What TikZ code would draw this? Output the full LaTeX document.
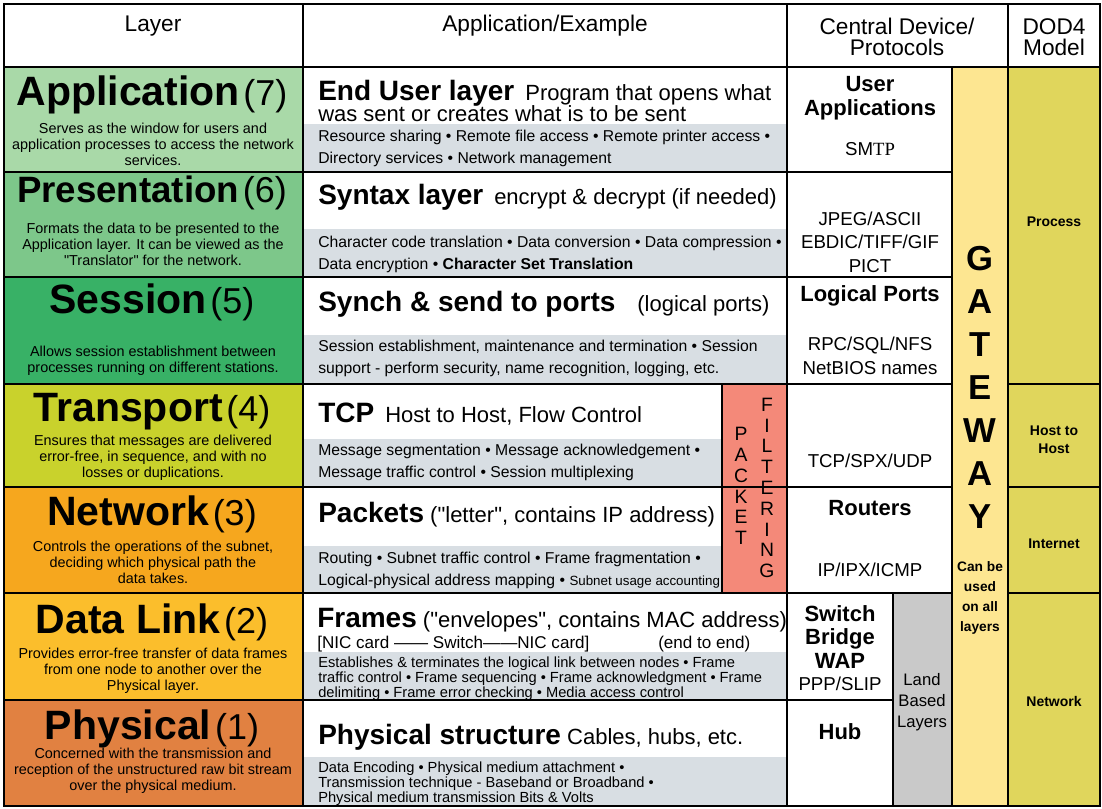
\documentclass[tikz,border=0pt]{standalone}
\usepackage{fontspec}
\setmainfont{Liberation Sans}
\newfontfamily\seriftp{Liberation Serif}
\definecolor{appgreen}{RGB}{169,217,168}
\definecolor{presgreen}{RGB}{125,199,138}
\definecolor{sessgreen}{RGB}{56,177,102}
\definecolor{transyel}{RGB}{201,210,44}
\definecolor{netorange}{RGB}{246,167,30}
\definecolor{linkorange}{RGB}{251,190,44}
\definecolor{physorange}{RGB}{225,129,65}
\definecolor{bandgrey}{RGB}{216,222,227}
\definecolor{gateyel}{RGB}{253,230,145}
\definecolor{dodyel}{RGB}{224,214,92}
\definecolor{pfred}{RGB}{244,137,121}
\definecolor{landgrey}{RGB}{201,201,201}
\newcommand{\lyrname}[3][30.75]{{\fontsize{#1}{#1}\selectfont\textbf{#2}} {\fontsize{27}{27}\selectfont(#3)}}
\newcommand{\exbold}[1]{{\fontsize{21}{21}\selectfont\bfseries #1}}

\begin{document}
\begin{tikzpicture}[x=0.75pt,y=0.75pt,yscale=-1,xscale=1,
	grid/.style={line width=1.2pt},
	frame/.style={line width=1.6pt},
	hdr/.style={inner sep=0.75pt,align=center,font=\fontsize{17}{16}\selectfont},
	lyrtitle/.style={inner sep=0.75pt},
	lyrdesc/.style={inner sep=0.75pt,align=center,font=\fontsize{10.8}{12}\selectfont},
	exline/.style={anchor=west,inner sep=0.75pt,font=\fontsize{16.5}{16}\selectfont},
	exnote/.style={anchor=west,inner sep=0.75pt,font=\fontsize{12.8}{14}\selectfont},
	exsmall/.style={anchor=west,inner sep=0.75pt,align=left,font=\fontsize{11.8}{16.5}\selectfont},
	exsmaller/.style={anchor=west,inner sep=0.75pt,align=left,font=\fontsize{11}{11.3}\selectfont},
	devbold/.style={inner sep=0.75pt,align=center,font=\fontsize{16.5}{17.6}\selectfont\bfseries},
	devtxt/.style={inner sep=0.75pt,align=center,font=\fontsize{14}{17.6}\selectfont},
	landtxt/.style={inner sep=0.75pt,align=center,font=\fontsize{12.5}{15.75}\selectfont},
	gatebig/.style={inner sep=0.75pt,align=center,font=\fontsize{26}{32.25}\selectfont\bfseries},
	gatesmall/.style={inner sep=0.75pt,align=center,font=\fontsize{10.3}{15}\selectfont\bfseries},
	pftxt/.style={inner sep=0.75pt,align=center,font=\fontsize{14.5}{15.6}\selectfont},
	dodtxt/.style={inner sep=0.75pt,align=center,font=\fontsize{10.5}{13.5}\selectfont\bfseries}]
	\useasboundingbox (0,0) rectangle (1102,809);
	
	%Shape: Rectangle (layer colours)
	\fill [appgreen] (4,67) rectangle (303,172);
	\fill [presgreen] (4,172) rectangle (303,277);
	\fill [sessgreen] (4,277) rectangle (303,384);
	\fill [transyel] (4,384) rectangle (303,487);
	\fill [netorange] (4,487) rectangle (303,593);
	\fill [linkorange] (4,593) rectangle (303,700);
	\fill [physorange] (4,700) rectangle (303,806);
	%Shape: Rectangle (grey bands)
	\fill [bandgrey] (303,124) rectangle (787,172);
	\fill [bandgrey] (303,229) rectangle (787,277);
	\fill [bandgrey] (303,335) rectangle (787,384);
	\fill [bandgrey] (303,439) rectangle (722,487);
	\fill [bandgrey] (303,546) rectangle (722,593);
	\fill [bandgrey] (303,652) rectangle (787,700);
	\fill [bandgrey] (303,757) rectangle (787,806);
	%Shape: Rectangle (side columns)
	\fill [pfred] (722,384) rectangle (787,593);
	\fill [landgrey] (893,593) rectangle (952,806);
	\fill [gateyel] (952,67) rectangle (1008,806);
	\fill [dodyel] (1008,67) rectangle (1100,806);
	
	%Straight Lines
	\draw [grid] (4,67) -- (1100,67);
	\draw [grid] (4,172) -- (952,172);
	\draw [grid] (4,277) -- (952,277);
	\draw [grid] (4,384) -- (952,384) (1008,384) -- (1100,384);
	\draw [grid] (4,487) -- (952,487) (1008,487) -- (1100,487);
	\draw [grid] (4,593) -- (952,593) (1008,593) -- (1100,593);
	\draw [grid] (4,700) -- (893,700);
	%Straight Lines
	\draw [grid] (303,4) -- (303,806);
	\draw [grid] (787,4) -- (787,806);
	\draw [grid] (952,67) -- (952,806);
	\draw [grid] (1008,4) -- (1008,806);
	\draw [grid] (893,593) -- (893,806);
	\draw [grid] (722,384) -- (722,593);
	%Shape: Rectangle
	\draw [frame] (4,4) rectangle (1100,806);
	
	% Text Node
	\draw (153,26) node [hdr] (hdLayer) {Layer};
	\draw (545,26) node [hdr] (hdExample) {Application/Example};
	\draw (897,37) node [hdr] (hdDevice) {Central Device/\\Protocols};
	\draw (1054,37) node [hdr] (hdDod) {DOD4\\Model};
	
	% Text Node
	\draw (152,95) node [lyrtitle] (lyApp) {\lyrname{Application}{7}};
	\draw (153,144) node [lyrdesc] (dsApp) {Serves as the window for users and\\application processes to access the network\\services.};
	\draw (152,193) node [lyrtitle] (lyPres) {\lyrname[27.5]{Presentation}{6}};
	\draw (153,244) node [lyrdesc] (dsPres) {Formats the data to be presented to the\\Application layer. It can be viewed as the\\\textquotedbl Translator\textquotedbl\ for the network.};
	\draw (152,302) node [lyrtitle] (lySess) {\lyrname{Session}{5}};
	\draw (153,361) node [lyrdesc] (dsSess) {Allows session establishment between\\processes running on different stations.};
	\draw (152,412) node [lyrtitle] (lyTrans) {\lyrname{Transport}{4}};
	\draw (153,458) node [lyrdesc] (dsTrans) {Ensures that messages are delivered\\error-free, in sequence, and with no\\losses or duplications.};
	\draw (152,514) node [lyrtitle] (lyNet) {\lyrname{Network}{3}};
	\draw (153,562) node [lyrdesc] (dsNet) {Controls the operations of the subnet,\\deciding which physical path the\\data takes.};
	\draw (152,622) node [lyrtitle] (lyLink) {\lyrname{Data Link}{2}};
	\draw (153,671) node [lyrdesc] (dsLink) {Provides error-free transfer of data frames\\from one node to another over the\\Physical layer.};
	\draw (152,729) node [lyrtitle] (lyPhys) {\lyrname{Physical}{1}};
	\draw (153,771) node [lyrdesc] (dsPhys) {Concerned with the transmission and\\reception of the unstructured raw bit stream\\over the physical medium.};
	
	% Text Node
	\draw (317,93) node [exline] (exApp) {\exbold{End User layer}\enspace Program that opens what};
	\draw (317,114) node [exline] (exAppB) {was sent or creates what is to be sent};
	\draw (317,148) node [exsmall] (smApp) {Resource sharing • Remote file access • Remote printer access •\\Directory services • Network management};
	\draw (317,197) node [exline] (exPres) {\exbold{Syntax layer}\enspace encrypt \& decrypt (if needed)};
	\draw (317,254) node [exsmall] (smPres) {Character code translation • Data conversion • Data compression •\\Data encryption • \textbf{Character Set Translation}};
	\draw (317,304) node [exline] (exSess) {\exbold{Synch \& send to ports}\quad(logical ports)};
	\draw (317,358) node [exsmall] (smSess) {Session establishment, maintenance and termination • Session\\support - perform security, name recognition, logging, etc.};
	\draw (317,414) node [exline] (exTrans) {\exbold{TCP}\enspace Host to Host, Flow Control};
	\draw (317,462) node [exsmall] (smTrans) {Message segmentation • Message acknowledgement •\\Message traffic control • Session multiplexing};
	\draw (317,515) node [exline] (exNet) {\exbold{Packets} (\textquotedbl letter\textquotedbl, contains IP address)};
	\draw (317,570) node [exsmall] (smNet) {Routing • Subnet traffic control • Frame fragmentation •\\Logical-physical address mapping • {\fontsize{10}{12}\selectfont Subnet usage accounting}};
	\draw (317,620) node [exline,inner sep=0pt] (exLink) {\exbold{Frames} (\textquotedbl envelopes\textquotedbl, contains MAC address)};
	\draw (317,644) node [exnote,inner sep=0pt] (exLinkNic) {[NIC card —— Switch——NIC card]};
	\draw (658,644) node [exnote,inner sep=0pt] (exLinkEnd) {(end to end)};
	\draw (317,679) node [exsmaller] (smLink) {Establishes \& terminates the logical link between nodes • Frame\\traffic control • Frame sequencing • Frame acknowledgment • Frame\\delimiting • Frame error checking • Media access control};
	\draw (317,737) node [exline] (exPhys) {\exbold{Physical structure} Cables, hubs, etc.};
	\draw (317,784) node [exsmaller] (smPhys) {Data Encoding • Physical medium attachment •\\Transmission technique - Baseband or Broadband •\\Physical medium transmission Bits \& Volts};
	
	% Text Node
	\draw (870,98) node [devbold] (dvApp) {User\\Applications};
	\draw (870,149) node [devtxt] (dvSmtp) {SM{\seriftp TP}};
	\draw (870,242) node [devtxt] (dvPres) {JPEG/ASCII\\EBDIC/TIFF/GIF\\PICT};
	\draw (870,296) node [devbold] (dvSessHd) {Logical Ports};
	\draw (870,356) node [devtxt] (dvSess) {RPC/SQL/NFS\\NetBIOS names};
	\draw (870,461) node [devtxt] (dvTrans) {TCP/SPX/UDP};
	\draw (870,508) node [devbold] (dvNetHd) {Routers};
	\draw (870,570) node [devtxt] (dvNet) {IP/IPX/ICMP};
	\draw (840,637) node [devbold] (dvLink) {Switch\\Bridge\\WAP};
	\draw (840,684) node [devtxt] (dvLinkPpp) {PPP/SLIP};
	\draw (840,732) node [devbold] (dvPhys) {Hub};
	\draw (922,702) node [landtxt] (landLbl) {Land\\Based\\Layers};
	
	% Text Node
	\draw (741,486) node [pftxt] (pfPacket) {P\\A\\C\\K\\E\\T};
	\draw (767,488) node [pftxt] (pfFilter) {F\\I\\L\\T\\E\\R\\I\\N\\G};
	\draw (980,387) node [gatebig] (gateWord) {G\\A\\T\\E\\W\\A\\Y};
	\draw (980,598) node [gatesmall] (gateNote) {Can be\\used\\on all\\layers};
	
	% Text Node
	\draw (1054,222) node [dodtxt] (dodProc) {Process};
	\draw (1054,440) node [dodtxt] (dodHost) {Host to\\Host};
	\draw (1054,544) node [dodtxt] (dodInet) {Internet};
	\draw (1054,701) node [dodtxt] (dodNet) {Network};
	
\end{tikzpicture}
\end{document}
